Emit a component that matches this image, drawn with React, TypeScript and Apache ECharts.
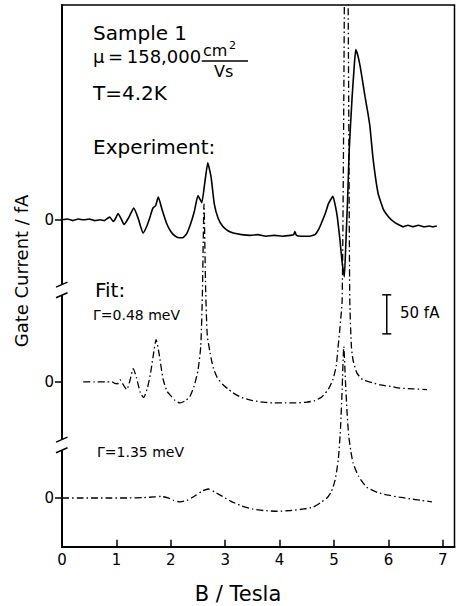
import React, { useEffect, useRef } from 'react';
import * as echarts from 'echarts';

const FONT = '"DejaVu Sans", sans-serif';

// Experiment (B in Tesla, current in fA relative to its own zero)
const expB = [0, 0.1, 0.2, 0.3, 0.4, 0.5, 0.6, 0.7, 0.78, 0.84, 0.88, 0.94, 0.98, 1.03, 1.09, 1.14, 1.22, 1.32, 1.4, 1.49, 1.56, 1.62, 1.67, 1.72, 1.77, 1.84, 1.92, 2.0, 2.08, 2.15, 2.22, 2.29, 2.36, 2.43, 2.5, 2.57, 2.62, 2.68, 2.74, 2.8, 2.87, 2.95, 3.05, 3.15, 3.3, 3.46, 3.6, 3.75, 3.9, 4.05, 4.2, 4.26, 4.28, 4.31, 4.4, 4.55, 4.65, 4.72, 4.77, 4.84, 4.9, 4.98, 5.03, 5.06, 5.11, 5.15, 5.19, 5.22, 5.25, 5.28, 5.33, 5.37, 5.4, 5.44, 5.48, 5.52, 5.57, 5.62, 5.66, 5.72, 5.81, 5.91, 6.0, 6.09, 6.18, 6.27, 6.36, 6.45, 6.55, 6.65, 6.75, 6.82, 6.89];
const expI = [0, 1, -1, 1, 0, 1, -1, 0, -1, 2, 3.4, -2, 1, 8, 1, -6, 2, 15, 2, -17, -8, 4, 15, 18, 29, 13, -4, -15, -21, -23, -23, -18, -6, 10, 31, 22, 45, 73, 55, 20, 2, -8, -14, -17, -19, -20, -19, -21, -20, -21, -20, -19, -15, -20, -21, -21, -19, -12, -4, 8, 21, 30, 16, 4, -26, -55, -73, -26, 26, 90, 154, 195, 218, 210, 197, 180, 158, 138, 120, 77, 34, 13, 4, -2, -6, -9, -7, -9, -7, -9, -8, -9, -8];

// Fit, Gamma = 0.48 meV
const fit1B = [0.39, 0.6, 0.8, 0.92, 0.97, 1.02, 1.07, 1.12, 1.19, 1.25, 1.31, 1.37, 1.44, 1.5, 1.57, 1.63, 1.68, 1.73, 1.78, 1.86, 1.93, 1.99, 2.08, 2.17, 2.27, 2.35, 2.43, 2.5, 2.55, 2.58, 2.61, 2.64, 2.67, 2.72, 2.78, 2.85, 2.95, 3.05, 3.14, 3.3, 3.5, 3.7, 3.9, 4.1, 4.3, 4.5, 4.65, 4.78, 4.9, 4.98, 5.04, 5.07, 5.11, 5.15, 5.18, 5.2, 5.225, 5.25, 5.27, 5.29, 5.32, 5.35, 5.42, 5.53, 5.7, 5.85, 6.05, 6.21, 6.45, 6.71];
const fit1I = [0, 0, 0, 0, -2, -2.5, 2.5, -3, -10, 2, 17, 5, -14, -20, -8, 12, 35, 54, 38, 3, -12, -17, -24, -27, -24, -19, -5, 15, 45, 110, 228, 120, 60, 38, 18, 6, -3, -9, -14, -20, -24, -26, -27, -27, -27, -26, -24, -19, -9, 3, 20, 41, 70, 105, 362, 600, 800, 600, 362, 105, 45, 28, 11.5, 2.6, -1, -4, -6, -8, -9, -10];

// Fit, Gamma = 1.35 meV
const fit2B = [0, 0.3, 0.6, 0.9, 1.2, 1.5, 1.7, 1.82, 1.95, 2.05, 2.17, 2.3, 2.45, 2.58, 2.69, 2.8, 2.95, 3.1, 3.3, 3.5, 3.7, 3.95, 4.2, 4.45, 4.62, 4.75, 4.87, 4.95, 5.02, 5.08, 5.12, 5.15, 5.18, 5.21, 5.24, 5.27, 5.31, 5.35, 5.45, 5.6, 5.8, 5.97, 6.2, 6.4, 6.6, 6.8];
const fit2I = [0, 0, 0, 0, 0, 0.5, 1.5, 2, 0, -3, -5, -3, 3, 9, 11.5, 8, 2, -4, -10, -14, -16, -17, -16, -14, -11.5, -6, 0, 8, 23, 50, 90, 140, 194, 150, 110, 80, 60, 45, 28, 14, 7, 4, 1, -1, -3, -5];

// vertical offsets (fA) of each trace's zero level on the stacked axis
const EXP_ZERO = 418.8;
const FIT1_ZERO = 211.2;
const FIT2_ZERO = 62.4;

const xTicks = [0, 1, 2, 3, 4, 5, 6, 7];
const yTickValues = [FIT2_ZERO, FIT1_ZERO, EXP_ZERO];
const yTickLabels = ['0', '0', '0'];
const breakLevels = [329, 130.4];
const scaleBarB = 5.97;
const scaleBarFrom = 272.7;
const scaleBarLen = 50;

const build = (B: number[], I: number[], off: number) => B.map((b, i) => [b, I[i] + off]);

export default function App() {
  const ref = useRef<HTMLDivElement>(null);
  useEffect(() => {
    const chart = echarts.init(ref.current as HTMLDivElement, null, { renderer: 'svg' });
    const txt = (text: string, x: number, y: number, size: number, extra: any = {}) => ({
      type: 'text', x, y, z: 10, ...extra,
      style: { text, fill: '#000', fontSize: size, fontFamily: FONT, align: 'left', verticalAlign: 'middle', ...(extra.style || {}) },
    });
    chart.setOption({
      animation: false,
      backgroundColor: '#fff',
      grid: { left: 62, top: 5, right: 1.5, bottom: 59.3, show: true, borderColor: '#000', borderWidth: 1.5, backgroundColor: 'transparent' },
      xAxis: {
        type: 'value', min: 0, max: 7.215, interval: 1,
        axisLine: { show: true, onZero: false, lineStyle: { color: '#000', width: 2 } },
        axisTick: { show: true, inside: true, length: 7, customValues: xTicks, lineStyle: { color: '#000', width: 1.5 } },
        axisLabel: { customValues: xTicks, color: '#000', fontSize: 15, fontFamily: FONT, margin: 6 },
        splitLine: { show: false },
      },
      yAxis: {
        type: 'value', min: 0, max: 694,
        axisLine: { show: true, onZero: false, lineStyle: { color: '#000', width: 2 } },
        axisTick: { show: true, inside: false, length: 7, customValues: yTickValues, lineStyle: { color: '#000', width: 1.5 } },
        axisLabel: {
          customValues: yTickValues, color: '#000', fontSize: 15, fontFamily: FONT, margin: 8,
          formatter: (v: number) => { const i = yTickValues.findIndex((t) => Math.abs(t - v) < 0.01); return i >= 0 ? yTickLabels[i] : ''; },
        },
        splitLine: { show: false },
      },
      series: [
        { type: 'line', name: 'Experiment', data: build(expB, expI, EXP_ZERO), showSymbol: false, smooth: 0.15, lineStyle: { color: '#000', width: 1.6 }, z: 3 },
        { type: 'line', name: 'Fit 0.48', data: build(fit1B, fit1I, FIT1_ZERO), showSymbol: false, smooth: 0.2, lineStyle: { color: '#000', width: 1.3, type: [7, 3, 1.5, 3] }, z: 3 },
        { type: 'line', name: 'Fit 1.35', data: build(fit2B, fit2I, FIT2_ZERO), showSymbol: false, smooth: 0.2, lineStyle: { color: '#000', width: 1.3, type: [7, 3, 1.5, 3] }, z: 3 },
        {
          type: 'custom', name: 'breaks', z: 5, silent: true,
          data: breakLevels.map((y) => [0, y]),
          renderItem: (params: any, api: any) => {
            const p = api.coord([api.value(0), api.value(1)]);
            const x = p[0], y = p[1];
            return {
              type: 'group',
              children: [
                { type: 'rect', shape: { x: x - 3, y: y - 5.5, width: 6, height: 11 }, style: { fill: '#fff' } },
                { type: 'line', shape: { x1: x - 6, y1: y - 2.8, x2: x + 5.5, y2: y - 7.8 }, style: { stroke: '#000', lineWidth: 1.5 } },
                { type: 'line', shape: { x1: x - 6, y1: y + 7.8, x2: x + 5.5, y2: y + 2.8 }, style: { stroke: '#000', lineWidth: 1.5 } },
              ],
            };
          },
        },
        {
          type: 'custom', name: 'scalebar', z: 5, silent: true,
          data: [[scaleBarB, scaleBarFrom, scaleBarFrom + scaleBarLen]],
          renderItem: (params: any, api: any) => {
            const a = api.coord([api.value(0), api.value(1)]);
            const b = api.coord([api.value(0), api.value(2)]);
            const s = { stroke: '#000', lineWidth: 1.5 };
            return {
              type: 'group',
              children: [
                { type: 'line', shape: { x1: a[0], y1: a[1], x2: b[0], y2: b[1] }, style: s },
                { type: 'line', shape: { x1: a[0] - 4.5, y1: a[1], x2: a[0] + 4.5, y2: a[1] }, style: s },
                { type: 'line', shape: { x1: b[0] - 4.5, y1: b[1], x2: b[0] + 4.5, y2: b[1] }, style: s },
              ],
            };
          },
        },
      ],
      graphic: [
        txt('Sample 1', 93, 32.5, 20),
        txt('μ\u2009=\u2009158,000', 93, 56, 18),
        txt('cm', 203, 50.5, 16),
        txt('2', 229, 45.5, 11),
        { type: 'line', z: 10, shape: { x1: 201.7, y1: 61, x2: 248, y2: 61 }, style: { stroke: '#000', lineWidth: 1.5 } },
        txt('Vs', 214, 71.5, 16),
        txt('T=4.2K', 93, 93, 20),
        txt('Experiment:', 93, 147, 20),
        txt('Fit:', 95, 290, 20),
        txt('Γ=0.48 meV', 93, 315, 14),
        txt('Γ=1.35 meV', 97, 452, 14),
        txt('50 fA', 400, 313, 15),
        txt('Gate Current / fA', 21, 271, 18, { rotation: Math.PI / 2, style: { align: 'center' } }),
        txt('B / Tesla', 238, 594, 21, { style: { align: 'center' } }),
      ],
    });
    return () => chart.dispose();
  }, []);
  return <div ref={ref} style={{ position: 'fixed', left: 0, top: 0, width: 456, height: 606, background: '#fff' }} />;
}
